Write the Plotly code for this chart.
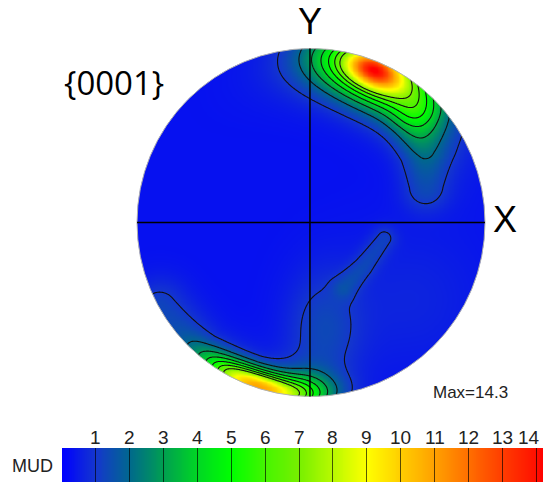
import numpy as np
import plotly.graph_objects as go

# ---------------- data ----------------
# Pole-figure coordinates: u to the right (X), v up (Y); unit circle = equator.
# Edge-following intensity peaks, given in polar form
# (angle deg, radius, amplitude in MUD, tangential width, radial width)
PEAK_THETA = [68.0, 66.0, 64.0, 252.0, 270.0]
PEAK_R = [0.95, 0.95, 0.86, 0.99, 0.93]
PEAK_AMP = [5.0, 8.0, 1.3, 9.6, 1.0]
PEAK_SIG_T = [0.10, 0.24, 0.36, 0.21, 0.12]
PEAK_SIG_R = [0.06, 0.12, 0.15, 0.065, 0.08]

# Elliptical blobs (centre, amplitude, widths along u and v)
BLOB_U = [0.070, 0.57]
BLOB_V = [-0.620, -0.445]
BLOB_AMP = [0.95, 0.35]
BLOB_SIG_U = [0.15, 0.30]
BLOB_SIG_V = [0.24, 0.30]

# Ridges (polyline vertices, amplitude at each vertex, width)
TAIL_U = [0.598, 0.649, 0.655]
TAIL_V = [0.589, 0.388, 0.200]
TAIL_AMP = [1.8, 1.3, 0.95]
TAIL_SIG = 0.095

EDGE_U = [-0.870, -0.640, -0.340, -0.085]
EDGE_V = [-0.495, -0.765, -0.935, -0.985]
EDGE_AMP = [0.95, 0.95, 0.95, 0.95]
EDGE_SIG = 0.12

SPIKE_U = [0.190, 0.300, 0.420]
SPIKE_V = [-0.370, -0.250, -0.089]
SPIKE_AMP = [0.7, 0.75, 0.72]
SPIKE_SIG = 0.05

BACKGROUND = 0.3
MAX_MUD = 14.3

# Colour bar
CBAR_TICKS = list(range(1, 15))
CBAR_MAX = 14.2
COLOR_VALUES = [0, 1, 2, 3, 4, 5, 6, 7, 8, 9, 10, 11, 12, 13, 14, 14.2]
COLOR_RGB = [
    (0, 0, 255), (20, 55, 205), (0, 105, 140), (0, 160, 80), (0, 215, 35),
    (0, 255, 0), (70, 245, 0), (120, 240, 0), (185, 250, 0), (255, 255, 0),
    (255, 205, 0), (255, 160, 0), (255, 110, 0), (255, 60, 0), (255, 15, 0),
    (255, 0, 0),
]
CONTOUR_START, CONTOUR_END = 1, 7

# ---------------- build the intensity field ----------------
L = 1.03          # axis half-range
G = 1.008         # grid half-range (kept inside the axis range)
N = 421
g = np.linspace(-G, G, N)
U, V = np.meshgrid(g, g)
RR = np.hypot(U, V)
TH = np.arctan2(V, U)


def polar_peak(th0, r0, amp, st, sr):
    dth = np.angle(np.exp(1j * (TH - np.radians(th0))))
    t = dth * r0
    r = RR - r0
    return amp * np.exp(-0.5 * ((t / st) ** 2 + (r / sr) ** 2))


def ridge(pu, pv, pamp, sig):
    best = np.zeros(U.shape)
    for i in range(len(pu) - 1):
        ax, ay, bx, by = pu[i], pv[i], pu[i + 1], pv[i + 1]
        vx, vy = bx - ax, by - ay
        t = np.clip(((U - ax) * vx + (V - ay) * vy) / (vx * vx + vy * vy), 0, 1)
        dx = U - (ax + t * vx)
        dy = V - (ay + t * vy)
        a = pamp[i] + t * (pamp[i + 1] - pamp[i])
        best = np.maximum(best, a * np.exp(-0.5 * (dx * dx + dy * dy) / sig ** 2))
    return best


Z = np.full(U.shape, BACKGROUND)
for i in range(len(PEAK_THETA)):
    Z += polar_peak(PEAK_THETA[i], PEAK_R[i], PEAK_AMP[i], PEAK_SIG_T[i], PEAK_SIG_R[i])
for i in range(len(BLOB_U)):
    Z += BLOB_AMP[i] * np.exp(-0.5 * (((U - BLOB_U[i]) / BLOB_SIG_U[i]) ** 2 + ((V - BLOB_V[i]) / BLOB_SIG_V[i]) ** 2))
Z += ridge(TAIL_U, TAIL_V, TAIL_AMP, TAIL_SIG)
Z += ridge(EDGE_U, EDGE_V, EDGE_AMP, EDGE_SIG)
Z += ridge(SPIKE_U, SPIKE_V, SPIKE_AMP, SPIKE_SIG)

colorscale = [[v / CBAR_MAX, "rgb(%d,%d,%d)" % c] for v, c in zip(COLOR_VALUES, COLOR_RGB)]

# ---------------- figure ----------------
W, H = 543, 482
cx, cy, R = 311.0, 222.5, 174.0  # pixel centre / radius of the pole figure
half = R * L

fig = go.Figure()
fig.add_trace(go.Heatmap(x=g, y=g, z=Z, colorscale=colorscale, zmin=0, zmax=CBAR_MAX,
                         zsmooth="best", showscale=False, hoverinfo="skip"))
fig.add_trace(go.Contour(x=g, y=g, z=Z, showscale=False, hoverinfo="skip",
                         contours=dict(start=CONTOUR_START, end=CONTOUR_END, size=1, coloring="none"),
                         line=dict(color="#111111", width=1.1)))

# colour bar as its own small axes
cb_x = np.linspace(0, CBAR_MAX, 500)
fig.add_trace(go.Heatmap(x=cb_x, y=[0, 1], z=[cb_x, cb_x], colorscale=colorscale, zmin=0,
                         zmax=CBAR_MAX, zsmooth="best", showscale=False, hoverinfo="skip",
                         xaxis="x2", yaxis="y2"))

# white mask outside the unit circle
th = np.linspace(0, 2 * np.pi, 361)
circ = " ".join(("M" if k == 0 else "L") + " %.5f,%.5f" % (np.cos(a), np.sin(a)) for k, a in enumerate(th)) + " Z"
B = L + 0.05
mask = "M %.3f,%.3f L %.3f,%.3f L %.3f,%.3f L %.3f,%.3f Z " % (-B, -B, B, -B, B, B, -B, B) + circ
shapes = [
    dict(type="path", path=mask, xref="x", yref="y", fillcolor="white", line=dict(width=0),
         fillrule="evenodd", layer="above"),
    dict(type="circle", x0=-1, y0=-1, x1=1, y1=1, xref="x", yref="y",
         line=dict(color="#b0b0b0", width=1), layer="above"),
    dict(type="line", x0=-1, y0=0, x1=1, y1=0, xref="x", yref="y",
         line=dict(color="black", width=1.5), layer="above"),
    dict(type="line", x0=-0.006, y0=-1, x1=-0.006, y1=1, xref="x", yref="y",
         line=dict(color="black", width=1.5), layer="above"),
]


def px(x):
    return x / W


def py(y):
    return 1 - y / H


annotations = [
    dict(text="Y", x=px(310), y=py(22), font=dict(size=36, family="Liberation Sans", color="black")),
    dict(text="X", x=px(505), y=py(220), font=dict(size=36, family="Liberation Sans", color="black")),
    dict(text="{0001}", x=px(114), y=py(82), font=dict(size=33, family="Open Sans", color="black")),
    dict(text="Max=%.1f" % MAX_MUD, x=px(470), y=py(392), font=dict(size=17, family="Liberation Sans", color="#222")),
    dict(text="MUD", x=px(32), y=py(466), font=dict(size=18, family="Liberation Sans", color="#222")),
]
for a in annotations:
    a.update(xref="paper", yref="paper", showarrow=False, xanchor="center", yanchor="middle")
# colour-bar tick labels
for t in CBAR_TICKS:
    lab = dict(text=str(t), x=t, xref="x2", y=py(437), yref="paper", showarrow=False,
               xanchor="center", yanchor="middle",
               font=dict(size=19, family="Liberation Sans", color="#222"))
    if t == CBAR_TICKS[-1]:
        lab.update(x=px(542), xref="paper", xanchor="right")
    annotations.append(lab)

fig.update_layout(
    width=W, height=H, margin=dict(l=0, r=0, t=0, b=0),
    paper_bgcolor="white", plot_bgcolor="white", showlegend=False,
    xaxis=dict(domain=[(cx - half) / W, (cx + half) / W], range=[-L, L], visible=False),
    yaxis=dict(domain=[1 - (cy + half) / H, 1 - (cy - half) / H], range=[-L, L], visible=False),
    xaxis2=dict(domain=[62 / W, 1], range=[0, CBAR_MAX], anchor="y2", side="top",
                tickvals=CBAR_TICKS, showticklabels=False,
                ticks="inside", ticklen=36, tickwidth=1, tickcolor="rgba(0,0,0,0.65)",
                showgrid=False, zeroline=False, showline=False),
    yaxis2=dict(domain=[0, 34 / H], range=[0, 1], anchor="x2", visible=False),
    shapes=shapes, annotations=annotations,
)

fig.write_html("out.html")
